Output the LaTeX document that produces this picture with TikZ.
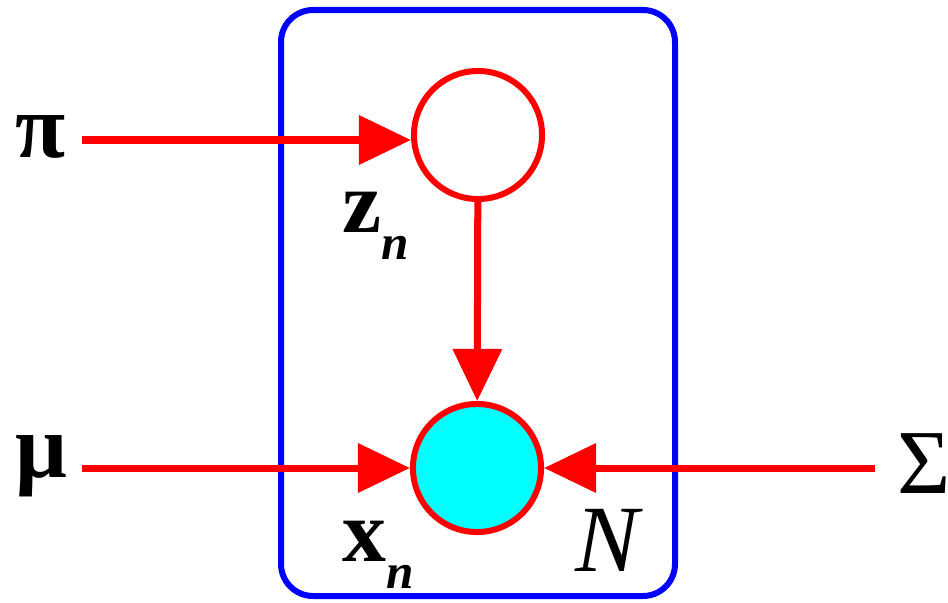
\documentclass[tikz,border=0pt]{standalone}
\usepackage{fontspec}
\setmainfont{Liberation Serif}
\usetikzlibrary{arrows.meta, positioning, calc}
\definecolor{platecol}{RGB}{0,0,255}
\definecolor{edgecol}{RGB}{255,0,0}
\definecolor{obscol}{RGB}{0,255,255}

\begin{document}
\begin{tikzpicture}[
        x=0.01cm, y=-0.01cm,
        plate/.style={
            draw=platecol,
            line width=0.06cm,
            rounded corners=0.32cm
        },
        latent/.style={
            circle,
            draw=edgecol,
            line width=0.06cm,
            minimum size=1.28cm,
            inner sep=0pt,
            fill=white
        },
        observed/.style={latent, fill=obscol},
        edge/.style={
            draw=edgecol,
            line width=0.07cm,
            -{Triangle[length=0.52cm, width=0.48cm]}
        },
        param/.style={
            font=\fontsize{26}{30}\selectfont\bfseries,
            inner sep=0pt
        },
        varlabel/.style={
            font=\fontsize{25}{30}\selectfont\bfseries,
            inner sep=0pt
        }
    ]

    \useasboundingbox (0,0) rectangle (948,603);

    % Plate
    \draw[plate] (281,10) rectangle (675,596);

    % Random variables
    \node[latent] (zn) at (478,135) {};
    \node[observed] (xn) at (477,468) {};

    % Parameters
    \node[param] (pi) at (41,137) {π};
    \node[param] (mu) at (41,466) {μ};
    \node[param, font=\fontsize{26}{30}\selectfont] (sigma) at (924,464) {Σ};

    % Labels
    \node[varlabel] (zlabel) at (376,226)
        {z\raisebox{-0.3em}{\fontsize{14}{16}\selectfont\itshape n}};
    \node[varlabel] (xlabel) at (378,555)
        {x\raisebox{-0.3em}{\fontsize{14}{16}\selectfont\itshape n}};
    \node[font=\fontsize{27}{30}\selectfont\itshape, inner sep=0pt] (plateN) at (607,540) {N};

    % Edges
    \coordinate (pistart) at (82,140);
    \coordinate (mustart) at (82,468);
    \coordinate (sigmastart) at (875,468);

    \draw[edge] (pistart) -- (pistart -| zn.west);
    \draw[edge] (mustart) -- (xn);
    \draw[edge] (sigmastart) -- (xn);
    \draw[edge] (zn) -- (xn);

\end{tikzpicture}
\end{document}
